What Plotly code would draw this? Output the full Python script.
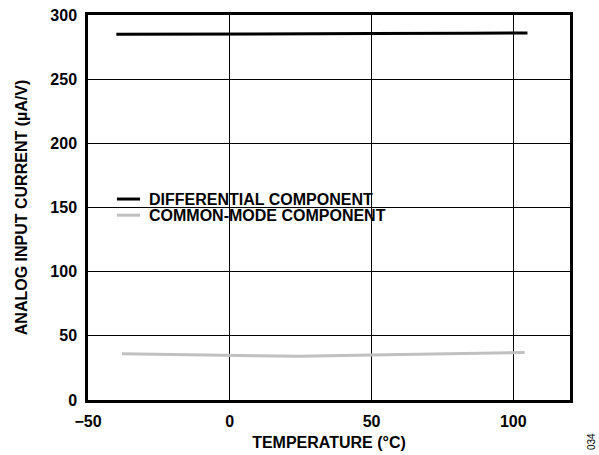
import plotly.graph_objects as go

# Data
temp_diff = [-40, 0, 25, 50, 85, 105]
diff_current = [285, 285, 285.2, 285.5, 285.8, 286]
temp_cm = [-38, 0, 25, 50, 85, 104]
cm_current = [36, 35, 34, 35, 36, 37]

series_names = ["DIFFERENTIAL COMPONENT", "COMMON-MODE COMPONENT"]
series_colors = ["black", "#c0c0c0"]

x_ticks = [-50, 0, 50, 100]
x_tick_labels = ["\u221250", "0", "50", "100"]
y_ticks = [0, 50, 100, 150, 200, 250, 300]

FONT = "Liberation Sans, Arial, sans-serif"
BFONT = dict(family=FONT, size=16, color="black", weight="bold")

fig = go.Figure()
fig.add_trace(go.Scatter(x=temp_diff, y=diff_current, mode="lines",
                         name=series_names[0], showlegend=False,
                         line=dict(color=series_colors[0], width=3)))
fig.add_trace(go.Scatter(x=temp_cm, y=cm_current, mode="lines",
                         name=series_names[1], showlegend=False,
                         line=dict(color=series_colors[1], width=3)))

# Legend drawn as annotations + swatches (paper coords)
leg_y = [0.522, 0.480]
for name, color, yy in zip(series_names, series_colors, leg_y):
    fig.add_shape(type="line", xref="paper", yref="paper",
                  x0=0.060, x1=0.108, y0=yy, y1=yy,
                  line=dict(color=color, width=3))
    fig.add_annotation(text=name, xref="paper", yref="paper",
                       x=0.122, y=yy, xanchor="left", yanchor="middle",
                       showarrow=False, font=BFONT)

fig.update_layout(
    width=599, height=455,
    margin=dict(l=88, r=29, t=15, b=55, autoexpand=False),
    paper_bgcolor="white", plot_bgcolor="white",
    font=BFONT,
    showlegend=False,
    xaxis=dict(range=[-50, 120], tickvals=x_ticks, ticktext=x_tick_labels,
               showgrid=True, gridcolor="black", gridwidth=1.3,
               showline=True, linecolor="black", linewidth=2.5, mirror=True,
               ticks="", zeroline=False, automargin=False,
               ticklabelstandoff=5, ticklabeloverflow="allow",
               tickfont=BFONT,
               title=dict(text="TEMPERATURE (°C)", font=BFONT, standoff=8)),
    yaxis=dict(range=[0, 300], tickvals=y_ticks,
               showgrid=True, gridcolor="black", gridwidth=1.3,
               showline=True, linecolor="black", linewidth=2.5, mirror=True,
               ticks="", zeroline=False, automargin=False,
               ticklabelstandoff=5, ticklabeloverflow="allow",
               tickfont=BFONT,
               title=dict(text="ANALOG INPUT CURRENT (µA/V)", font=BFONT, standoff=19)),
)

fig.add_annotation(text="034", x=1.0, y=0.0, xref="paper", yref="paper",
                   xanchor="center", yanchor="middle", xshift=21, yshift=-42,
                   textangle=-90, showarrow=False,
                   font=dict(size=10, family=FONT, color="black", weight="normal"))

fig.write_html("out.html",
               config={"displayModeBar": False},
               post_script="document.body.style.margin='0';document.body.style.overflow='hidden';")
